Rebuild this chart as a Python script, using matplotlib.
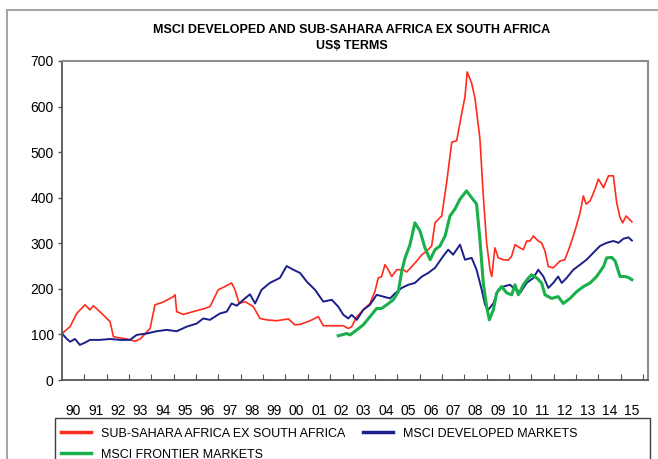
import matplotlib
matplotlib.use("Agg")
import matplotlib.pyplot as plt
from matplotlib.patches import Rectangle

plt.rcParams["font.family"] = ["Liberation Sans Narrow", "Liberation Sans", "DejaVu Sans"]

# year (decimal) / index value
ssa_years = [1990.0, 1990.36, 1990.66, 1991.03, 1991.25, 1991.4, 1991.78, 1992.15, 1992.3,
             1992.5, 1992.9, 1993.27, 1993.5, 1993.94, 1994.16, 1994.53, 1994.98, 1995.06,
             1995.13, 1995.43, 1995.87, 1996.32, 1996.62, 1996.99, 1997.29, 1997.59, 1997.74,
             1997.93, 1998.19, 1998.56, 1998.86, 1999.16, 1999.6, 2000.13, 2000.42, 2000.65,
             2001.1, 2001.47, 2001.69, 2002.14, 2002.59, 2002.81, 2002.96, 2003.19, 2003.48,
             2003.78, 2004.0, 2004.15, 2004.3, 2004.45, 2004.6, 2004.75, 2004.98, 2005.27,
             2005.42, 2005.65, 2005.87, 2006.1, 2006.32, 2006.54, 2006.69, 2006.99, 2007.21,
             2007.44, 2007.66, 2007.88, 2008.03, 2008.13, 2008.33, 2008.48, 2008.7, 2008.85,
             2009.0, 2009.15, 2009.23, 2009.37, 2009.52, 2009.75, 2009.97, 2010.12, 2010.27,
             2010.49, 2010.64, 2010.79, 2010.94, 2011.09, 2011.31, 2011.46, 2011.61, 2011.76,
             2011.98, 2012.28, 2012.5, 2012.73, 2012.95, 2013.18, 2013.33, 2013.45, 2013.63,
             2013.85, 2014.0, 2014.23, 2014.45, 2014.67, 2014.82, 2014.97, 2015.09, 2015.24,
             2015.5]
ssa_vals = [102, 117, 146, 165, 154, 163, 146, 128, 95,
            93, 90, 85, 90, 113, 165, 171, 183, 187,
            150, 144, 150, 156, 161, 198, 205, 213, 198,
            168, 172, 161, 135, 132, 130, 134, 121, 122,
            130, 139, 119, 119, 119, 113, 117, 139, 154,
            168, 194, 224, 227, 253, 242, 227, 242, 242,
            237, 249, 261, 275, 283, 294, 345, 360, 433,
            522, 525, 584, 621, 676, 651, 618, 529, 404,
            301, 242, 227, 290, 268, 264, 263, 272, 297,
            290, 286, 305, 305, 316, 305, 301, 283, 249,
            246, 261, 264, 294, 327, 367, 404, 386, 393,
            419, 441, 422, 448, 448, 389, 356, 345, 360,
            347]

dev_years = [1990.0, 1990.2, 1990.36, 1990.58, 1990.8, 1991.03, 1991.25, 1991.7, 1992.15,
             1992.6, 1993.04, 1993.34, 1993.79, 1994.24, 1994.68, 1995.13, 1995.58, 1996.03,
             1996.32, 1996.62, 1997.07, 1997.37, 1997.59, 1997.82, 1998.11, 1998.41, 1998.64,
             1998.93, 1999.3, 1999.75, 2000.05, 2000.35, 2000.65, 2000.95, 2001.32, 2001.69,
             2002.07, 2002.36, 2002.59, 2002.81, 2002.96, 2003.19, 2003.48, 2003.78, 2004.08,
             2004.38, 2004.68, 2004.9, 2005.2, 2005.5, 2005.79, 2006.1, 2006.39, 2006.69,
             2007.06, 2007.28, 2007.5, 2007.81, 2008.03, 2008.33, 2008.55, 2008.78, 2008.93,
             2009.07, 2009.3, 2009.52, 2009.75, 2010.05, 2010.2, 2010.5, 2010.79, 2011.09,
             2011.31, 2011.54, 2011.76, 2011.98, 2012.2, 2012.36, 2012.58, 2012.88, 2013.18,
             2013.47, 2013.77, 2014.07, 2014.37, 2014.67, 2014.9, 2015.12, 2015.34, 2015.5]
dev_vals = [102, 91, 84, 90, 77, 82, 88, 88, 90,
            88, 88, 99, 102, 107, 110, 107, 117, 124,
            135, 132, 146, 150, 168, 163, 176, 188, 168,
            198, 213, 224, 250, 242, 235, 216, 198, 172,
            176, 161, 143, 135, 143, 132, 154, 165, 187,
            183, 179, 190, 202, 209, 213, 227, 235, 246,
            272, 286, 275, 297, 264, 268, 242, 198, 165,
            154, 168, 198, 205, 209, 202, 191, 213, 224,
            242, 227, 202, 213, 227, 213, 224, 242, 253,
            264, 279, 294, 301, 305, 301, 310, 313, 306]

fm_years = [2002.36, 2002.74, 2002.89, 2003.19, 2003.48, 2003.78, 2004.08, 2004.3, 2004.53,
            2004.82, 2005.05, 2005.2, 2005.35, 2005.57, 2005.79, 2006.02, 2006.24, 2006.47,
            2006.69, 2006.91, 2007.14, 2007.36, 2007.58, 2007.81, 2008.1, 2008.33, 2008.55,
            2008.7, 2008.85, 2009.0, 2009.12, 2009.3, 2009.45, 2009.67, 2009.9, 2010.12,
            2010.27, 2010.42, 2010.64, 2010.87, 2011.01, 2011.24, 2011.46, 2011.61, 2011.91,
            2012.2, 2012.43, 2012.73, 2013.03, 2013.33, 2013.63, 2013.92, 2014.23, 2014.37,
            2014.6, 2014.75, 2014.97, 2015.2, 2015.34, 2015.5]
fm_vals = [97, 102, 99, 110, 121, 139, 157, 157, 165,
           176, 194, 238, 268, 297, 345, 327, 290, 264,
           286, 294, 316, 360, 375, 397, 415, 400, 386,
           308, 213, 161, 132, 154, 191, 205, 191, 187,
           209, 187, 209, 224, 231, 224, 213, 187, 179,
           183, 168, 179, 194, 205, 213, 227, 249, 268,
           269, 261, 227, 227, 225, 220]

year_labels = ["90", "91", "92", "93", "94", "95", "96", "97", "98", "99", "00", "01", "02",
               "03", "04", "05", "06", "07", "08", "09", "10", "11", "12", "13", "14", "15"]

W, H = 658, 459
fig = plt.figure(figsize=(W / 100, H / 100), dpi=100)
ax = fig.add_axes([62 / W, 1 - 380 / H, (648 - 62) / W, (380 - 61) / H])

# outer grey frame of the exhibit (runs off the right/bottom edge)
fig.patches.append(Rectangle((7 / W, -0.1), 1.2, 1 - 10 / H + 0.1, transform=fig.transFigure,
                             fill=False, edgecolor="#a6a6a6", linewidth=1.5))

l_ssa, = ax.plot(ssa_years, ssa_vals, color="#ff2b1c", lw=1.2,
                 label="SUB-SAHARA AFRICA EX SOUTH AFRICA")
l_dev, = ax.plot(dev_years, dev_vals, color="#1c1f8a", lw=1.4,
                 label="MSCI DEVELOPED MARKETS")
l_fm, = ax.plot(fm_years, fm_vals, color="#19b04b", lw=2.2,
                label="MSCI FRONTIER MARKETS")

ax.set_xlim(1990, 2016.22)
ax.set_ylim(0, 700)
ax.set_yticks(range(0, 701, 100))
ax.tick_params(axis="y", direction="out", length=3, width=1, color="#555555",
               labelsize=10, pad=3)

# year boundaries get the tick marks, labels sit mid-year
ax.set_xticks(range(1991, 2017))
ax.set_xticklabels([])
ax.tick_params(axis="x", which="major", direction="in", length=4, color="#555555")
ax.set_xticks([1990.5 + i for i in range(len(year_labels))], minor=True)
ax.set_xticklabels(year_labels, minor=True)
ax.tick_params(axis="x", which="minor", length=0, labelsize=10, pad=17)

for side in ["left", "bottom"]:
    ax.spines[side].set_color("#555555")
    ax.spines[side].set_linewidth(1.3)
for side in ["top", "right"]:
    ax.spines[side].set_color("#8c8c8c")
    ax.spines[side].set_linewidth(1.5)

fig.text(352 / W, 1 - 30 / H, "MSCI DEVELOPED AND SUB-SAHARA AFRICA EX SOUTH AFRICA",
         ha="center", va="center", fontsize=9, fontweight="bold")
fig.text(352 / W, 1 - 46 / H, "US$ TERMS", ha="center", va="center",
         fontsize=9, fontweight="bold")

# legend box runs off the bottom of the picture
fig.patches.append(Rectangle((55 / W, -0.1), (650 - 55) / W, 1 - 418 / H + 0.1,
                             transform=fig.transFigure, fill=False,
                             edgecolor="#404040", linewidth=1))
fig.legend(handles=[l_ssa, l_fm, l_dev], ncol=2, loc="upper left",
           bbox_to_anchor=(52 / W, 1 - 419 / H), frameon=False, fontsize=9,
           handlelength=2.4, handletextpad=0.8, columnspacing=1.4,
           labelspacing=0.7, borderpad=0.2)
for line in fig.legends[0].get_lines():
    line.set_linewidth(2.5)

fig.savefig("out.png", dpi=100)
